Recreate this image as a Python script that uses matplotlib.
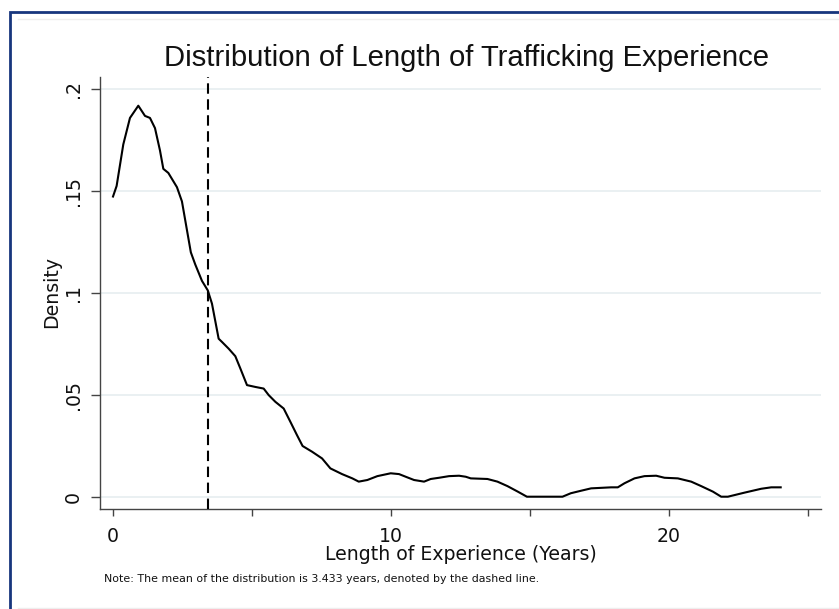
import matplotlib
matplotlib.use("Agg")
import matplotlib.pyplot as plt
from matplotlib.patches import Rectangle
from matplotlib.lines import Line2D

plt.rcParams['font.family'] = ['DejaVu Sans']
plt.rcParams['lines.scale_dashes'] = False

# Kernel density estimate of trafficking experience length (years)
years = [0, 0.13, 0.37, 0.61, 0.91, 1.15, 1.33, 1.51, 1.69, 1.81, 1.99, 2.30,
         2.48, 2.80, 2.96, 3.20, 3.41, 3.56, 3.80, 3.92, 4.16, 4.40, 4.58, 4.82,
         5.12, 5.42, 5.60, 5.84, 6.14, 6.38, 6.62, 6.82, 7.16, 7.52, 7.82, 8.24,
         8.61, 8.84, 9.15, 9.51, 9.99, 10.29, 10.53, 10.83, 11.19, 11.43, 11.73,
         12.09, 12.45, 12.69, 12.87, 13.47, 13.83, 14.19, 14.56, 14.89, 16.17,
         16.47, 16.83, 17.20, 17.92, 18.16, 18.40, 18.76, 19.12, 19.54, 19.84,
         20.32, 20.80, 21.16, 21.58, 21.88, 22.12, 22.72, 23.32, 23.68, 24.02]
density = [0.1474, 0.1526, 0.173, 0.186, 0.192, 0.187, 0.186, 0.181, 0.170,
           0.161, 0.159, 0.152, 0.145, 0.120, 0.114, 0.106, 0.1013, 0.0948,
           0.0776, 0.0760, 0.0727, 0.069, 0.063, 0.0548, 0.0539, 0.0531, 0.0499,
           0.0466, 0.0433, 0.0368, 0.0302, 0.0249, 0.0221, 0.0188, 0.0139,
           0.0111, 0.0090, 0.0074, 0.0082, 0.0101, 0.0115, 0.0111, 0.0098,
           0.0082, 0.0074, 0.0087, 0.0093, 0.0101, 0.0103, 0.0098, 0.0090,
           0.0087, 0.0074, 0.0052, 0.0025, 0.0, 0.0, 0.0017, 0.0029, 0.0041,
           0.0046, 0.0046, 0.0066, 0.0090, 0.0101, 0.0103, 0.0093, 0.0090,
           0.0074, 0.0052, 0.0025, 0.0, 0.0, 0.0020, 0.0039, 0.0046, 0.0046]
mean_years = 3.433

x_ticks = [0, 5, 10, 15, 20, 25]
x_ticklabels = ['0', '', '10', '', '20', '']
y_ticks = [0, 0.05, 0.1, 0.15, 0.2]
y_ticklabels = ['0', '.05', '.1', '.15', '.2']

title = 'Distribution of Length of Trafficking Experience'
xlabel = 'Length of Experience (Years)'
ylabel = 'Density'
note = 'Note: The mean of the distribution is 3.433 years, denoted by the dashed line.'

W, H = 839, 609
fig = plt.figure(figsize=(W / 100, H / 100), dpi=100, facecolor='white')

# outer frame (runs off the right and bottom edges)
fig.patches.append(Rectangle((10 / W, -0.05), 1.1, (H - 12) / H + 0.05,
                             transform=fig.transFigure, fill=False,
                             edgecolor='#17367d', linewidth=2.0))
fig.lines.append(Line2D([18 / W, 1.0], [1 - 19 / H, 1 - 19 / H],
                        transform=fig.transFigure, color='#eeeeee', lw=1.0))
fig.lines.append(Line2D([18 / W, 1.0], [1 - 608 / H, 1 - 608 / H],
                        transform=fig.transFigure, color='#eeeeee', lw=1.0))

ax = fig.add_axes([100 / W, 1 - 509 / H, (821 - 100) / W, (509 - 77) / H])
ax.set_facecolor('white')

ax.plot(years, density, color='black', lw=1.5, solid_joinstyle='round', zorder=3)
ax.axvline(mean_years, color='black', lw=1.5, dashes=(7.5, 4.0), zorder=3)

ax.set_xlim(-0.468, 25.47)
ax.set_ylim(-0.00604, 0.2061)

ax.set_xticks(x_ticks)
ax.set_xticklabels(x_ticklabels)
ax.set_yticks(y_ticks)
ax.set_yticklabels(y_ticklabels, rotation=90, va='center')

ax.yaxis.grid(True, color='#e6eef0', lw=1.2)
ax.set_axisbelow(True)

for side in ['top', 'right']:
    ax.spines[side].set_visible(False)
for side in ['left', 'bottom']:
    ax.spines[side].set_color('#444444')
    ax.spines[side].set_linewidth(1.0)

ax.tick_params(axis='x', direction='out', length=5.3, width=1.0,
               color='#444444', labelsize=13.6, pad=8.0, labelcolor='#111111')
ax.tick_params(axis='y', direction='out', length=6.8, width=1.0,
               color='#444444', labelsize=13.6, pad=5.7, labelcolor='#111111')

fig.text(466 / W, 1 - 66 / H, title, ha='center', va='baseline',
         fontsize=21.1, color='#111111', family=['Liberation Sans'])
fig.text(461 / W, 1 - 560 / H, xlabel, ha='center', va='baseline',
         fontsize=13.6, color='#111111')
fig.text(52 / W, 1 - 292 / H, ylabel, ha='center', va='center',
         rotation=90, fontsize=13.6, color='#111111')
fig.text(104 / W, 1 - 581.7 / H, note, ha='left', va='baseline',
         fontsize=7.95, color='#111111')

fig.savefig('out.png', dpi=100, facecolor='white')
